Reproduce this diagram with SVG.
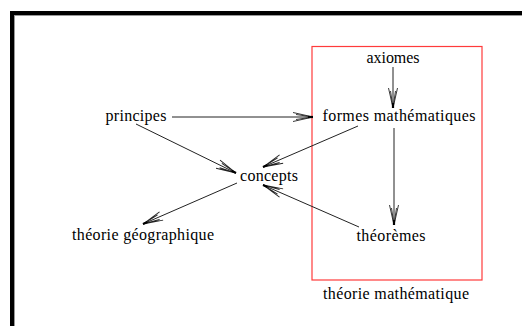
<svg xmlns="http://www.w3.org/2000/svg" width="522" height="326" viewBox="0 0 522 326">
<style>
text{font-family:"Liberation Serif","Times New Roman",serif;font-size:16px;fill:#000;text-anchor:middle}
.c line{stroke:#222;stroke-width:1}
</style>
<defs>
<marker id="ah" markerUnits="userSpaceOnUse" markerWidth="22" markerHeight="12" viewBox="0 0 22 12" refX="21" refY="6" orient="auto">
<path d="M1,1.5L21,6M1,10.5L21,6M4,3.5L21,6M4,8.5L21,6" fill="none" stroke="#222" stroke-width="0.9"/>
<path d="M16,6H21" stroke="#000" stroke-width="2.2"/>
</marker>
</defs>
<rect width="522" height="326" fill="#fff"/>
<g id="frame">
<path d="M10,11H522V15H14V326H10Z" fill="#000"/>
<path d="M14,15.5H522M14.5,15V326" stroke="#999" stroke-width="1"/>
</g>
<g id="theorie-mathematique">
<rect x="312" y="46.5" width="170" height="233.5" fill="none" stroke="#ff3b3b" stroke-width="1.2"/>
<text x="396" y="299" textLength="146" lengthAdjust="spacing">théorie mathématique</text>
</g>
<g id="axiomes"><text x="393" y="63" textLength="53" lengthAdjust="spacing">axiomes</text></g>
<g id="formes"><text x="399" y="121" textLength="153" lengthAdjust="spacing">formes mathématiques</text></g>
<g id="principes"><text x="136" y="121" textLength="61" lengthAdjust="spacing">principes</text></g>
<g id="concepts"><text x="269" y="181" textLength="58" lengthAdjust="spacing">concepts</text></g>
<g id="theoremes"><text x="391" y="241" textLength="69" lengthAdjust="spacing">théorèmes</text></g>
<g id="theorie-geographique"><text x="143" y="240" textLength="142" lengthAdjust="spacing">théorie géographique</text></g>
<g class="c" id="connectors">
<line x1="172" y1="117" x2="313" y2="117" marker-end="url(#ah)"/>
<line x1="393" y1="67" x2="393" y2="108" marker-end="url(#ah)"/>
<line x1="394" y1="128" x2="394" y2="225" marker-end="url(#ah)"/>
<line x1="136" y1="124" x2="236" y2="173" marker-end="url(#ah)"/>
<line x1="358" y1="126" x2="263" y2="167" marker-end="url(#ah)"/>
<line x1="359" y1="227" x2="263" y2="185" marker-end="url(#ah)"/>
<line x1="237" y1="183" x2="143" y2="224" marker-end="url(#ah)"/>
</g>
</svg>
